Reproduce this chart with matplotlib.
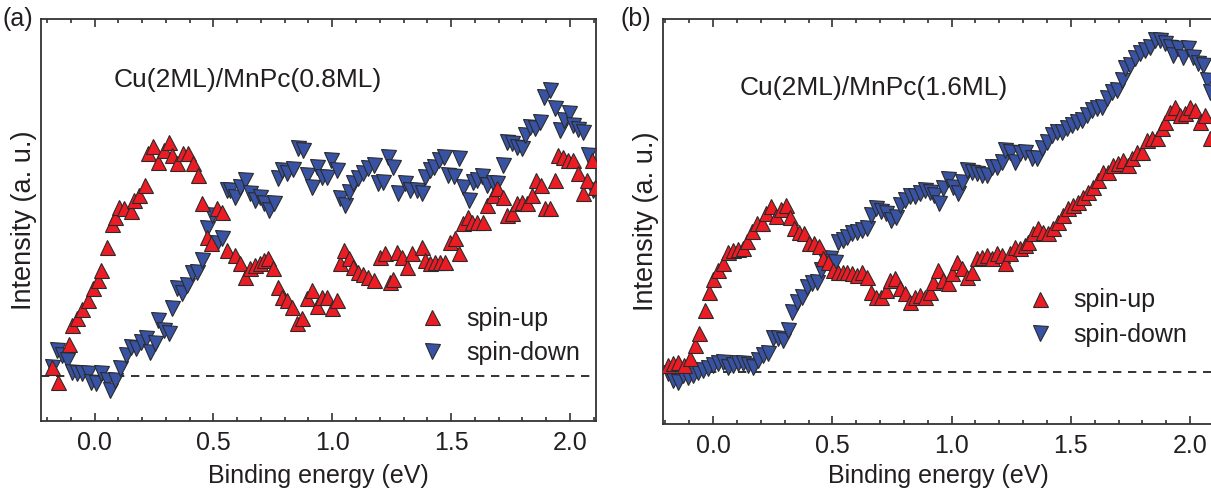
import matplotlib
matplotlib.use('Agg')
import matplotlib.pyplot as plt
from matplotlib.ticker import MultipleLocator

plt.rcParams['font.family'] = ['Liberation Sans', 'DejaVu Sans']

# ---- panel (a): Cu(2ML)/MnPc(0.8ML) ----
a_up_x = [-0.181, -0.152, -0.109, -0.093, -0.072, -0.051, -0.029, -0.008, 0.013, 0.029,
          0.051, 0.072, 0.088, 0.105, 0.126, 0.152, 0.168, 0.189, 0.211, 0.227,
          0.248, 0.269, 0.291, 0.312, 0.328, 0.349, 0.371, 0.392, 0.413, 0.434,
          0.451, 0.472, 0.488, 0.514, 0.535, 0.556, 0.589, 0.611, 0.632, 0.653,
          0.674, 0.695, 0.712, 0.728, 0.749, 0.771, 0.787, 0.808, 0.829, 0.851,
          0.872, 0.893, 0.914, 0.935, 0.956, 0.977, 0.998, 1.019, 1.032, 1.048,
          1.069, 1.086, 1.107, 1.128, 1.149, 1.175, 1.200, 1.221, 1.242, 1.255,
          1.272, 1.293, 1.314, 1.335, 1.377, 1.389, 1.411, 1.432, 1.453, 1.474,
          1.495, 1.516, 1.533, 1.549, 1.571, 1.587, 1.608, 1.634, 1.651, 1.676,
          1.693, 1.718, 1.735, 1.756, 1.777, 1.798, 1.819, 1.840, 1.857, 1.878,
          1.895, 1.916, 1.937, 1.949, 1.971, 1.992, 2.013, 2.034, 2.055, 2.072,
          2.093, 2.105]
a_up_y = [0.09, -0.06, 0.32, 0.51, 0.58, 0.67, 0.76, 0.88, 0.96, 1.06,
          1.29, 1.52, 1.59, 1.69, 1.68, 1.65, 1.76, 1.81, 1.91, 2.23,
          2.30, 2.14, 2.26, 2.34, 2.21, 2.13, 2.23, 2.23, 2.13, 2.01,
          1.73, 1.39, 1.33, 1.68, 1.64, 1.26, 1.21, 1.13, 0.99, 1.08,
          1.11, 1.13, 1.16, 1.18, 1.08, 0.89, 0.79, 0.76, 0.69, 0.53,
          0.58, 0.78, 0.86, 0.70, 0.79, 0.79, 0.68, 0.76, 1.13, 1.26,
          1.18, 1.09, 1.04, 1.02, 0.99, 0.96, 1.19, 1.23, 0.94, 0.97,
          1.24, 1.19, 1.09, 1.23, 1.29, 1.16, 1.13, 1.14, 1.14, 1.14,
          1.34, 1.38, 1.23, 1.53, 1.59, 1.54, 1.54, 1.54, 1.71, 1.81,
          1.88, 1.79, 1.61, 1.63, 1.73, 1.74, 1.73, 1.81, 1.96, 1.91,
          1.68, 1.68, 1.96, 2.21, 2.19, 2.16, 2.16, 2.03, 1.83, 1.96,
          2.16, 1.89]

a_down_x = [-0.177, -0.156, -0.135, -0.114, -0.093, -0.072, -0.051, -0.029, -0.013, 0.008,
            0.029, 0.051, 0.067, 0.088, 0.109, 0.131, 0.152, 0.173, 0.194, 0.215,
            0.232, 0.253, 0.269, 0.291, 0.312, 0.328, 0.349, 0.366, 0.387, 0.408,
            0.429, 0.451, 0.472, 0.493, 0.514, 0.535, 0.556, 0.568, 0.589, 0.611,
            0.632, 0.653, 0.674, 0.695, 0.712, 0.733, 0.754, 0.771, 0.787, 0.808,
            0.834, 0.855, 0.876, 0.893, 0.914, 0.935, 0.956, 0.977, 0.994, 1.019,
            1.032, 1.053, 1.069, 1.086, 1.107, 1.128, 1.149, 1.175, 1.192, 1.213,
            1.234, 1.255, 1.276, 1.305, 1.326, 1.356, 1.377, 1.389, 1.411, 1.427,
            1.448, 1.469, 1.486, 1.512, 1.533, 1.549, 1.575, 1.592, 1.608, 1.629,
            1.651, 1.676, 1.693, 1.718, 1.735, 1.756, 1.777, 1.798, 1.811, 1.832,
            1.853, 1.874, 1.891, 1.916, 1.937, 1.958, 1.975, 1.996, 2.013, 2.034,
            2.055, 2.076, 2.097]
a_down_y = [0.09, 0.26, 0.21, 0.16, 0.04, 0.03, 0.03, 0.03, -0.06, -0.07,
            0.03, -0.04, -0.14, -0.04, 0.08, 0.21, 0.29, 0.28, 0.34, 0.38,
            0.24, 0.33, 0.56, 0.46, 0.43, 0.68, 0.88, 0.83, 0.91, 1.03,
            1.04, 1.16, 1.48, 1.61, 1.33, 1.38, 1.86, 1.86, 1.79, 1.89,
            1.96, 1.83, 1.76, 1.79, 1.73, 1.66, 1.73, 1.98, 2.06, 2.03,
            2.07, 2.28, 2.26, 2.01, 1.89, 2.09, 1.99, 1.99, 2.16, 2.06,
            1.78, 1.71, 1.84, 1.93, 1.98, 2.03, 2.08, 2.11, 1.93, 1.94,
            2.19, 2.09, 1.83, 1.93, 1.86, 1.86, 1.83, 1.99, 2.06, 2.09,
            2.16, 2.19, 2.01, 2.00, 2.18, 1.89, 1.76, 1.94, 1.96, 2.00,
            1.91, 1.93, 1.93, 2.11, 2.34, 2.33, 2.29, 2.28, 2.41, 2.49,
            2.48, 2.54, 2.79, 2.86, 2.68, 2.46, 2.56, 2.63, 2.51, 2.47,
            2.44, 2.21, 1.86]

# ---- panel (b): Cu(2ML)/MnPc(1.6ML) ----
b_up_x = [-0.189, -0.168, -0.147, -0.122, -0.096, -0.075, -0.059, -0.034, -0.017, 0.000,
          0.021, 0.042, 0.063, 0.084, 0.105, 0.126, 0.143, 0.164, 0.184, 0.205,
          0.222, 0.243, 0.264, 0.285, 0.306, 0.323, 0.340, 0.361, 0.382, 0.403,
          0.423, 0.444, 0.461, 0.482, 0.503, 0.524, 0.545, 0.562, 0.583, 0.604,
          0.625, 0.646, 0.662, 0.683, 0.704, 0.725, 0.742, 0.763, 0.784, 0.805,
          0.826, 0.847, 0.868, 0.889, 0.910, 0.922, 0.943, 0.964, 0.985, 1.002,
          1.023, 1.044, 1.065, 1.086, 1.107, 1.128, 1.149, 1.170, 1.191, 1.212,
          1.224, 1.245, 1.266, 1.287, 1.308, 1.321, 1.342, 1.363, 1.384, 1.405,
          1.426, 1.447, 1.468, 1.488, 1.509, 1.530, 1.551, 1.572, 1.593, 1.614,
          1.635, 1.656, 1.677, 1.698, 1.719, 1.740, 1.757, 1.778, 1.799, 1.820,
          1.841, 1.862, 1.883, 1.895, 1.916, 1.937, 1.958, 1.979, 2.000, 2.021,
          2.042, 2.063, 2.084]
b_up_y = [0.07, 0.09, 0.10, 0.07, 0.14, 0.27, 0.39, 0.62, 0.80, 0.93,
          1.02, 1.09, 1.20, 1.22, 1.23, 1.24, 1.31, 1.41, 1.49, 1.49,
          1.59, 1.66, 1.56, 1.63, 1.67, 1.55, 1.44, 1.40, 1.39, 1.29,
          1.29, 1.26, 1.14, 1.10, 1.02, 1.00, 1.00, 1.00, 0.99, 0.97,
          1.00, 0.95, 0.80, 0.75, 0.75, 0.82, 0.92, 0.94, 0.84, 0.79,
          0.70, 0.75, 0.77, 0.75, 0.80, 0.90, 1.02, 0.92, 0.89, 0.99,
          1.10, 1.04, 0.95, 1.00, 1.14, 1.15, 1.17, 1.14, 1.19, 1.17,
          1.09, 1.19, 1.25, 1.24, 1.27, 1.30, 1.39, 1.44, 1.40, 1.39,
          1.44, 1.50, 1.57, 1.64, 1.67, 1.70, 1.75, 1.80, 1.85, 1.92,
          2.00, 2.00, 2.07, 2.09, 2.12, 2.07, 2.14, 2.20, 2.20, 2.32,
          2.34, 2.34, 2.44, 2.50, 2.60, 2.65, 2.57, 2.59, 2.65, 2.62,
          2.50, 2.57, 2.34]

b_down_x = [-0.189, -0.168, -0.147, -0.126, -0.105, -0.084, -0.063, -0.042, -0.021, 0.000,
            0.021, 0.042, 0.063, 0.084, 0.105, 0.126, 0.147, 0.168, 0.189, 0.210,
            0.231, 0.252, 0.273, 0.294, 0.314, 0.331, 0.352, 0.373, 0.394, 0.415,
            0.436, 0.453, 0.470, 0.491, 0.512, 0.524, 0.545, 0.562, 0.583, 0.604,
            0.625, 0.646, 0.662, 0.683, 0.704, 0.725, 0.746, 0.767, 0.784, 0.805,
            0.826, 0.847, 0.868, 0.889, 0.910, 0.927, 0.948, 0.964, 0.985, 1.006,
            1.027, 1.044, 1.065, 1.086, 1.107, 1.128, 1.149, 1.170, 1.191, 1.212,
            1.224, 1.245, 1.266, 1.287, 1.308, 1.338, 1.358, 1.379, 1.400, 1.421,
            1.442, 1.463, 1.484, 1.505, 1.526, 1.547, 1.568, 1.589, 1.610, 1.631,
            1.652, 1.673, 1.694, 1.715, 1.727, 1.748, 1.769, 1.790, 1.811, 1.832,
            1.853, 1.874, 1.895, 1.916, 1.929, 1.950, 1.971, 1.992, 2.013, 2.034,
            2.055, 2.071, 2.084]
b_down_y = [-0.01, -0.08, -0.10, -0.03, -0.05, -0.03, 0.00, 0.02, 0.04, 0.07,
            0.09, 0.10, 0.05, 0.07, 0.09, 0.09, 0.07, 0.05, 0.12, 0.17,
            0.19, 0.34, 0.34, 0.32, 0.42, 0.60, 0.70, 0.75, 0.85, 0.89,
            0.90, 1.02, 1.12, 1.14, 1.10, 1.30, 1.32, 1.35, 1.39, 1.40,
            1.42, 1.44, 1.57, 1.64, 1.61, 1.59, 1.52, 1.55, 1.67, 1.72,
            1.76, 1.76, 1.79, 1.82, 1.80, 1.77, 1.69, 1.84, 1.93, 1.85,
            1.79, 1.90, 2.02, 2.00, 1.99, 1.97, 1.97, 2.05, 2.05, 2.10,
            2.22, 2.20, 2.10, 2.19, 2.20, 2.14, 2.14, 2.24, 2.30, 2.37,
            2.40, 2.40, 2.44, 2.47, 2.50, 2.52, 2.57, 2.62, 2.64, 2.65,
            2.74, 2.80, 2.82, 2.92, 3.04, 3.07, 3.14, 3.19, 3.22, 3.25,
            3.32, 3.32, 3.29, 3.25, 3.17, 3.24, 3.15, 3.24, 3.15, 3.09,
            3.07, 2.92, 2.80]

up_color = '#ec1c24'
down_color = '#3953a4'
edge = '#2a2a2a'
txt = '#231f20'

fig = plt.figure(figsize=(12.11, 4.93), dpi=100)

# axes boxes (figure fractions) and limits for each panel
panels = [
    dict(rect=[0.0339, 0.146, 0.4583, 0.815], xlim=(-0.225, 2.11), ylim=(-0.45, 3.57),
         up=(a_up_x, a_up_y), down=(a_down_x, a_down_y), title='Cu(2ML)/MnPc(0.8ML)',
         title_xy=(0.373, 0.848), leg_xy=(0.682, 0.285), tag='(a)', tag_x=0.002,
         xlpad=7),
    dict(rect=[0.5475, 0.140, 0.455, 0.8215], xlim=(-0.21, 2.10), ylim=(-0.52, 3.53),
         up=(b_up_x, b_up_y), down=(b_down_x, b_down_y), title='Cu(2ML)/MnPc(1.6ML)',
         title_xy=(0.383, 0.83), leg_xy=(0.6615, 0.335), tag='(b)', tag_x=0.512,
         xlpad=4.5),
]

for p in panels:
    ax = fig.add_axes(p['rect'])
    ax.axhline(0, color='#111111', lw=1.2, ls=(0, (5, 4)), zorder=1)
    ax.plot(*p['up'], ls='none', marker='^', ms=10.8, mfc=up_color, mec=edge,
            mew=0.8, label='spin-up', zorder=3)
    ax.plot(*p['down'], ls='none', marker='v', ms=10.8, mfc=down_color, mec=edge,
            mew=0.8, label='spin-down', zorder=2)
    ax.set_xlim(*p['xlim'])
    ax.set_ylim(*p['ylim'])
    ax.xaxis.set_major_locator(MultipleLocator(0.5))
    ax.xaxis.set_minor_locator(MultipleLocator(0.1))
    ax.xaxis.set_major_formatter(plt.FormatStrFormatter('%.1f'))
    ax.tick_params(axis='x', which='both', direction='in', top=True, colors=txt,
                   labelsize=18, pad=7, width=1.1)
    ax.tick_params(axis='x', which='major', length=6)
    ax.tick_params(axis='x', which='minor', length=3)
    ax.set_yticks([])
    for s in ax.spines.values():
        s.set_linewidth(1.3)
        s.set_color('#333333')
    ax.set_xlabel('Binding energy (eV)', fontsize=18, color=txt, labelpad=p['xlpad'])
    ax.set_ylabel('Intensity (a. u.)', fontsize=19.5, color=txt, labelpad=3)
    ax.text(*p['title_xy'], p['title'], transform=ax.transAxes, ha='center',
            va='center', fontsize=19, color=txt)
    ax.legend(loc='upper left', bbox_to_anchor=p['leg_xy'], frameon=False,
              numpoints=1, fontsize=18, handlelength=1.0, handletextpad=0.85,
              borderpad=0, borderaxespad=0, labelspacing=0.42, labelcolor=txt)
    fig.text(p['tag_x'], 0.962, p['tag'], fontsize=18, color=txt, va='center')

fig.savefig('out.png', dpi=100)
plt.close(fig)
